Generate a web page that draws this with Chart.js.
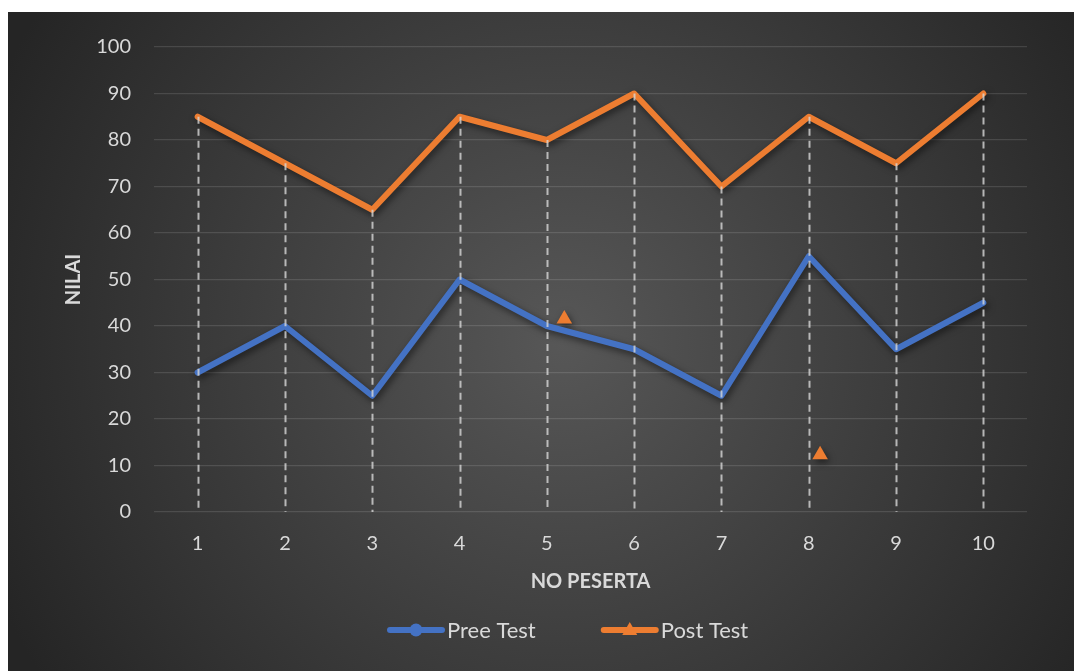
<!DOCTYPE html>
<html>
<head>
<meta charset="utf-8">
<script src="https://cdn.jsdelivr.net/npm/chart.js@4.4.1/dist/chart.umd.min.js"></script>
<style>
  html, body { margin: 0; padding: 0; background: #fff; }
  #wrap { position: absolute; left: 8px; top: 12px; width: 1066px; height: 659px; }
</style>
</head>
<body>
<div id="wrap"><canvas id="nilaiChart"></canvas></div>
<script>
// data
const peserta = ['1', '2', '3', '4', '5', '6', '7', '8', '9', '10'];
const preeTest = [30, 40, 25, 50, 40, 35, 25, 55, 35, 45];
const postTest = [85, 75, 65, 85, 80, 90, 70, 85, 75, 90];
// two loose triangle markers sitting in the plot
const strayX = [5.2, 8.13];
const strayY = [41.5, 12.3];

const BLUE = '#4472C4';
const ORANGE = '#ED7D31';
const TEXT = '#d9d9d9';

// background, shadows, drop lines and legend
const decor = {
    id: 'decor',
    beforeDraw(chart) {
        const ctx = chart.ctx;
        const w = chart.width, h = chart.height;
        const g = ctx.createRadialGradient(w * 0.52, h * 0.5, 0, w * 0.52, h * 0.5, 620);
        g.addColorStop(0, '#575757');
        g.addColorStop(1, '#252525');
        ctx.save();
        ctx.fillStyle = g;
        ctx.fillRect(0, 0, w, h);
        ctx.restore();
    },
    beforeDatasetsDraw(chart) {
        const ctx = chart.ctx;
        ctx.save();
        ctx.shadowColor = 'rgba(0,0,0,0.55)';
        ctx.shadowBlur = 7;
        ctx.shadowOffsetX = 2;
        ctx.shadowOffsetY = 3;
    },
    afterDatasetsDraw(chart) {
        const ctx = chart.ctx;
        ctx.restore();
        const x = chart.scales.x, y = chart.scales.y;
        ctx.save();
        ctx.strokeStyle = 'rgba(215,215,215,0.8)';
        ctx.lineWidth = 2;
        ctx.setLineDash([7, 5]);
        peserta.forEach((p, i) => {
            const px = Math.round(x.getPixelForValue(i)) + 0.5;
            const top = y.getPixelForValue(Math.max(preeTest[i], postTest[i]));
            ctx.beginPath();
            ctx.moveTo(px, top);
            ctx.lineTo(px, y.getPixelForValue(0));
            ctx.stroke();
        });
        ctx.restore();
    },
    afterDraw(chart) {
        const ctx = chart.ctx;
        const cy = 618;
        let lx = 379;
        ctx.save();
        ctx.font = '22px Lato';
        ctx.textBaseline = 'middle';
        chart.data.datasets.slice(0, 2).forEach((ds, k) => {
            ctx.strokeStyle = ds.borderColor;
            ctx.fillStyle = ds.borderColor;
            ctx.lineWidth = 6;
            ctx.lineCap = 'round';
            ctx.beginPath();
            ctx.moveTo(lx + 3, cy);
            ctx.lineTo(lx + 55, cy);
            ctx.stroke();
            const mx = lx + 29;
            ctx.beginPath();
            if (k === 0) {
                ctx.arc(mx, cy, 6.5, 0, Math.PI * 2);
            } else {
                ctx.moveTo(mx, cy - 8);
                ctx.lineTo(mx + 7.5, cy + 5);
                ctx.lineTo(mx - 7.5, cy + 5);
                ctx.closePath();
            }
            ctx.fill();
            ctx.fillStyle = TEXT;
            ctx.textAlign = 'left';
            ctx.fillText(ds.label, lx + 60, cy + 1);
            lx += 60 + ctx.measureText(ds.label).width + 65;
        });
        ctx.restore();
    }
};

const ctx = document.getElementById('nilaiChart').getContext('2d');
const chart = new Chart(ctx, {
    type: 'line',
    data: {
        labels: peserta,
        datasets: [
            {
                label: 'Pree Test',
                data: preeTest,
                borderColor: BLUE,
                backgroundColor: BLUE,
                borderWidth: 6,
                pointRadius: 0,
                borderJoinStyle: 'round',
                borderCapStyle: 'round',
                tension: 0
            },
            {
                label: 'Post Test',
                data: postTest,
                borderColor: ORANGE,
                backgroundColor: ORANGE,
                borderWidth: 6,
                pointRadius: 0,
                borderJoinStyle: 'round',
                borderCapStyle: 'round',
                tension: 0
            },
            {
                label: 'stray',
                type: 'scatter',
                xAxisID: 'x2',
                data: strayX.map((v, i) => ({ x: v, y: strayY[i] })),
                pointStyle: 'triangle',
                pointRadius: 9,
                borderWidth: 0,
                backgroundColor: ORANGE,
                borderColor: ORANGE,
                showLine: false
            }
        ]
    },
    options: {
        responsive: true,
        maintainAspectRatio: false,
        animation: false,
        layout: { padding: { top: 33, right: 47, left: 0, bottom: 0 } },
        plugins: {
            legend: { display: false },
            tooltip: { enabled: false }
        },
        scales: {
            x: {
                offset: true,
                grid: { display: false, drawTicks: false, offset: true },
                border: { display: false },
                ticks: { color: TEXT, font: { family: 'Lato', size: 20 }, padding: 20 },
                title: {
                    display: true, text: 'NO PESERTA', color: TEXT,
                    font: { family: 'Lato', size: 20, weight: 'bold' },
                    padding: { top: 0, bottom: 77 }
                },
                afterFit: s => { s.height = 159; }
            },
            x2: {
                type: 'linear', display: false, min: 0.5, max: 10.5
            },
            y: {
                min: 0, max: 100,
                ticks: { stepSize: 10, color: TEXT, font: { family: 'Lato', size: 20 }, padding: 23 },
                grid: { color: 'rgba(255,255,255,0.12)', lineWidth: 1.3, drawTicks: false },
                border: { display: false },
                title: {
                    display: true, text: 'NILAI', color: TEXT,
                    font: { family: 'Lato', size: 20, weight: 'bold' },
                    padding: { top: 54, bottom: 0 }
                },
                afterFit: s => { s.width = 146; }
            }
        }
    },
    plugins: [decor]
});
</script>
</body>
</html>
